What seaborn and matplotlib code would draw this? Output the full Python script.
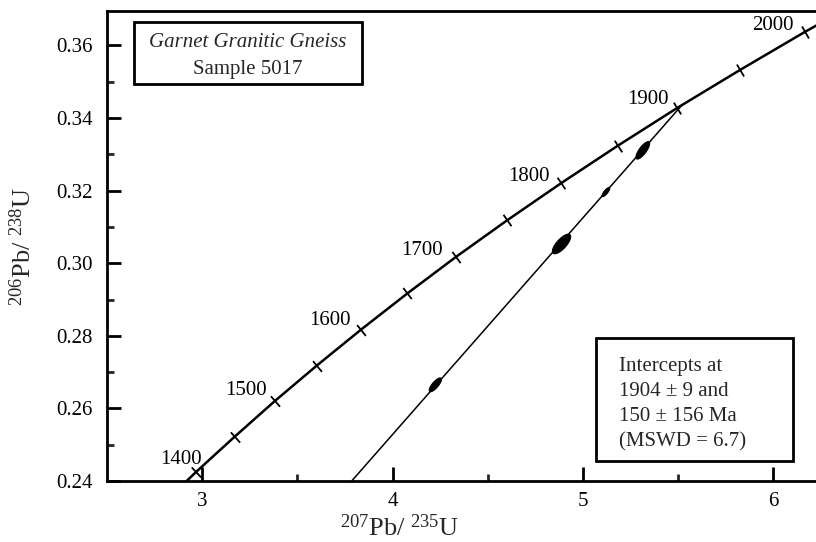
import numpy as np
import pandas as pd
import matplotlib
matplotlib.use("Agg")
import matplotlib.pyplot as plt
from matplotlib.patches import Rectangle
import seaborn as sns

# ---------------- data ----------------
# Concordia curve: ages (Ma) with their 207Pb/235U and 206Pb/238U ratios
conc_age = [1350, 1400, 1450, 1500, 1550, 1600, 1650, 1700, 1750, 1800,
            1850, 1900, 1950, 2000, 2050]
conc_x = [2.7794, 2.9701, 3.1705, 3.3810, 3.6021, 3.8344, 4.0784, 4.3348,
          4.6041, 4.8869, 5.1841, 5.4962, 5.8241, 6.1686, 6.5304]
conc_y = [0.2330, 0.2426, 0.2522, 0.2620, 0.2718, 0.2817, 0.2917, 0.3018,
          0.3119, 0.3221, 0.3324, 0.3428, 0.3532, 0.3638, 0.3744]
label_ages = [1400, 1500, 1600, 1700, 1800, 1900, 2000]

# Discordia: lower intercept (150 Ma) to upper intercept (1904 Ma)
disc_x = [0.1592, 5.5213]
disc_y = [0.02354, 0.3436]

# Analyses (error ellipses): centre, half-extent in x and y, correlation
ell_x = [4.225, 4.888, 5.121, 5.315]
ell_y = [0.2665, 0.3053, 0.3196, 0.3311]
ell_sx = [0.0320, 0.0480, 0.0200, 0.0360]
ell_sy = [0.00190, 0.00270, 0.00125, 0.00240]
ell_rho = [0.78, 0.74, 0.80, 0.78]

x_ticks = [3, 4, 5, 6]
y_ticks = [0.24, 0.26, 0.28, 0.30, 0.32, 0.34, 0.36]

title_lines = ["Garnet Granitic Gneiss", "Sample 5017"]
result_lines = ["Intercepts at", "1904 \u00b1 9 and", "150 \u00b1 156 Ma", "(MSWD = 6.7)"]

# label offsets in pixels (style)
label_offsets = {1400: (5, 8), 1500: (-8, 6), 1600: (-10, 5), 1700: (-13, 2),
                 1800: (-12, 2), 1900: (-9, 4), 2000: (-12, 2)}

# ---------------- style ----------------
sns.set_theme(style="ticks")
plt.rcParams["font.family"] = ["Liberation Serif", "DejaVu Serif"]
plt.rcParams["mathtext.fontset"] = "custom"
plt.rcParams["mathtext.rm"] = "Liberation Serif"
plt.rcParams["mathtext.it"] = "Liberation Serif:italic"

FS = 15

fig = plt.figure(figsize=(8.16, 5.42), dpi=100)
ax = fig.add_axes([107 / 816, 61 / 542, 709 / 816, 470 / 542])
ax.set_xlim(2.5, 6.225)
ax.set_ylim(0.24, 0.3695)

conc = pd.DataFrame({"x": conc_x, "y": conc_y, "age": conc_age})
disc = pd.DataFrame({"x": disc_x, "y": disc_y})

sns.lineplot(data=conc, x="x", y="y", sort=False, color="black", lw=1.8, ax=ax)
sns.lineplot(data=disc, x="x", y="y", sort=False, color="black", lw=1.1, ax=ax)

# age tick marks perpendicular to concordia
pts = ax.transData.transform(np.column_stack([conc_x, conc_y]))
dx = np.gradient(pts[:, 0])
dy = np.gradient(pts[:, 1])
angles = np.degrees(np.arctan2(dy, dx))
for xx, yy, ang in zip(conc_x, conc_y, angles):
    ax.plot([xx], [yy], marker=(2, 0, ang), ms=10, mew=1.3, color="black",
            linestyle="none")

for age in label_ages:
    i = conc_age.index(age)
    ax.annotate(str(age), (conc_x[i], conc_y[i]), xytext=label_offsets[age],
                textcoords="offset pixels", ha="right", va="baseline",
                fontsize=FS, color="black")

# error ellipses
t = np.linspace(0, 2 * np.pi, 100)
for cx, cy, sx, sy, r in zip(ell_x, ell_y, ell_sx, ell_sy, ell_rho):
    ex = cx + sx * np.cos(t)
    ey = cy + sy * (r * np.cos(t) + np.sqrt(1 - r ** 2) * np.sin(t))
    ax.fill(ex, ey, color="black", lw=0.8, zorder=3)

# axes styling
ax.set_xticks(x_ticks)
ax.set_xticklabels([str(v) for v in x_ticks])
ax.set_yticks(y_ticks)
ax.set_yticklabels([f"{v:.2f}" for v in y_ticks])
ax.set_xticks([3.5, 4.5, 5.5], minor=True)
ax.set_yticks([0.25, 0.27, 0.29, 0.31, 0.33, 0.35], minor=True)
ax.tick_params(which="major", direction="in", length=10, width=2.0,
               labelsize=FS, colors="black")
ax.tick_params(axis="y", which="major", pad=10)
ax.tick_params(axis="x", which="major", pad=8)
ax.tick_params(which="minor", direction="in", length=5, width=2.0)
ax.tick_params(axis="x", top=False, which="both")
ax.tick_params(axis="y", right=False, which="both")
for side in ["left", "bottom", "top"]:
    ax.spines[side].set_linewidth(2.0)
    ax.spines[side].set_color("black")
ax.spines["right"].set_visible(False)

ax.set_xlabel(r"$\mathregular{^{207}Pb/\ ^{235}U}$", fontsize=19)
ax.xaxis.set_label_coords(0.413, -0.071)
ax.set_ylabel(r"$\mathregular{^{206}Pb/\ ^{238}U}$", fontsize=19)
ax.yaxis.set_label_coords(-0.100, 0.5)

# title box
ax.add_patch(Rectangle((0.0381, 0.8447), 0.3597 - 0.0381, 0.9766 - 0.8447,
                       transform=ax.transAxes, fill=False, lw=2.0,
                       edgecolor="black", zorder=4))
ax.text(0.1989, 0.934, title_lines[0], transform=ax.transAxes, ha="center",
        va="center", fontsize=FS, style="italic")
ax.text(0.1989, 0.8745, title_lines[1], transform=ax.transAxes, ha="center",
        va="center", fontsize=FS)

# results box
ax.add_patch(Rectangle((0.690, 0.0426), 0.9676 - 0.690, 0.3043 - 0.0426,
                       transform=ax.transAxes, fill=True, facecolor="white",
                       lw=2.0, edgecolor="black", zorder=4))
for k, line in enumerate(result_lines):
    ax.text(0.722, 0.2426 - k * 0.0532, line, transform=ax.transAxes,
            ha="left", va="center", fontsize=FS, zorder=5)

fig.savefig("out.png", dpi=100)
